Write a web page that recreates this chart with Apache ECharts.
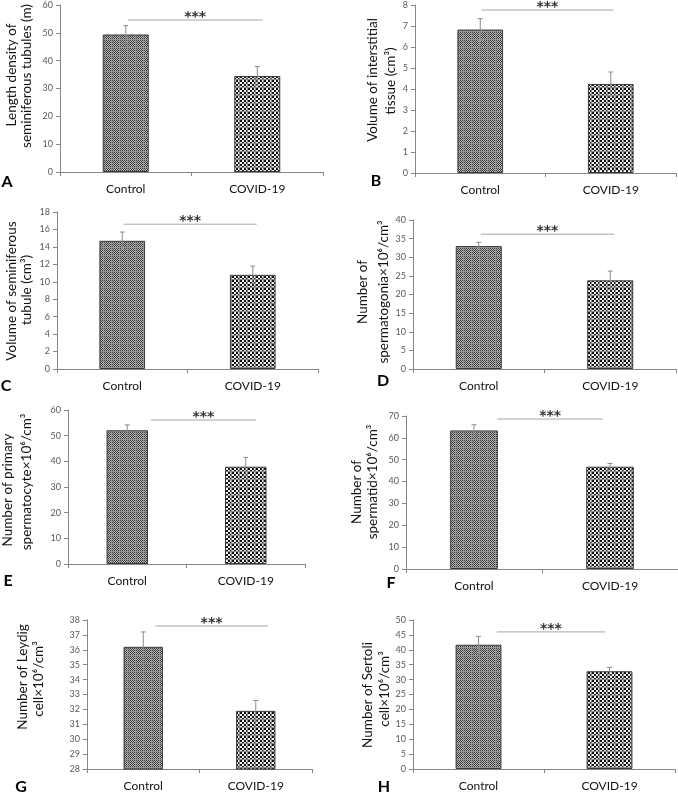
<!DOCTYPE html>
<html>
<head>
<meta charset="utf-8">
<script src="https://cdn.jsdelivr.net/npm/echarts@6/dist/echarts.min.js"></script>
<style>
html,body{margin:0;padding:0;background:#fff;}
#chart{width:678px;height:794px;}
</style>
</head>
<body>
<div id="chart"></div>
<script>
// ---------- data ----------
const categories = ['Control', 'COVID-19'];
const panelLetters = ['A', 'B', 'C', 'D', 'E', 'F', 'G', 'H'];
const controlMeans = [49.4, 6.83, 14.7, 33.0, 52.1, 63.4, 36.2, 41.7];
const covidMeans   = [34.5, 4.24, 10.8, 23.8, 37.9, 46.8, 31.9, 32.8];
const controlErr   = [3.2, 0.52, 1.0, 1.0, 2.1, 2.6, 1.0, 2.8];
const covidErr     = [3.4, 0.57, 1.0, 2.5, 3.6, 1.5, 0.7, 1.3];
const yMin  = [0, 0, 0, 0, 0, 0, 28, 0];
const yMax  = [60, 8, 18, 40, 60, 70, 38, 50];
const yStep = [10, 1, 2, 5, 10, 10, 1, 5];
const sigLevels = [54.6, 7.76, 16.6, 36.2, 56.1, 68.6, 37.6, 46.0];
const sigText = '***';
const yTitleLine1 = ['Length density of', 'Volume of interstitial', 'Volume of seminiferous', 'Number of',
                     'Number of primary', 'Number of', 'Number of Leydig', 'Number of Sertoli'];
const yTitleLine2 = ['seminiferous tubules (m)', 'tissue (cm\u00B3)', 'tubule (cm\u00B3)', 'spermatogonia\u00D710\u2076/cm\u00B3',
                     'spermatocyte\u00D710\u2076/cm\u00B3', 'spermatid\u00D710\u2076/cm\u00B3', 'cell\u00D710\u2076/cm\u00B3', 'cell\u00D710\u2076/cm\u00B3'];

// ---------- layout (pixels) ----------
const grids = [
  {left: 60,  top: 5,   width: 263, height: 167},
  {left: 415, top: 5,   width: 261, height: 168},
  {left: 57,  top: 212, width: 261, height: 157},
  {left: 413, top: 220, width: 263, height: 149},
  {left: 68,  top: 410, width: 237, height: 154},
  {left: 406, top: 416, width: 272, height: 153},
  {left: 87,  top: 620, width: 225, height: 149},
  {left: 413, top: 620, width: 262, height: 149}
];
const sigOffsets = [[0.015, 0.04], [0.01, 0.02], [0.01, 0.03], [0.015, 0.03],
                    [0.2, 0.085], [0.17, -0.05], [0.107, 0.107], [0.14, -0.035]];
const titlePos = [
  [[12, 75], [27, 76]], [[373, 80], [391, 81]],
  [[12, 291], [27, 290]], [[363, 292], [384, 292]],
  [[8, 490], [27, 482]], [[357, 492], [373, 482]],
  [[23, 677], [39, 679]], [[368, 695], [385, 689]]
];
const letterPos = [[7, 182], [376, 181], [6, 386], [383, 381], [8, 581], [391, 583], [21, 787], [384, 787]];

// ---------- patterns ----------
function makePattern(kind) {
  const c = document.createElement('canvas');
  c.width = 8; c.height = 8;
  const ctx = c.getContext('2d');
  for (let y = 0; y < 8; y++) {
    for (let x = 0; x < 8; x++) {
      let col;
      if (kind === 'fine') {
        col = ((x + y) % 2 === 0) ? '#353535' : '#bcbcbc';
        if (x === 7 || y === 7) col = '#959595';
      } else {
        col = ((Math.floor(x / 2) + Math.floor(y / 2)) % 2 === 0) ? '#111111' : '#f4f4f4';
        if (x === 7 || y === 7) col = '#8a8a8a';
      }
      ctx.fillStyle = col;
      ctx.fillRect(x, y, 1, 1);
    }
  }
  return {image: c, repeat: 'repeat'};
}
const patControl = makePattern('fine');
const patCovid = makePattern('coarse');

const FONT = 'Lato, "Open Sans", sans-serif';

const option = {
  animation: false,
  backgroundColor: '#fff',
  grid: [], xAxis: [], yAxis: [], series: [], graphic: []
};

for (let i = 0; i < 8; i++) {
  option.grid.push(Object.assign({containLabel: false}, grids[i]));
  option.xAxis.push({
    type: 'category', gridIndex: i, data: categories,
    axisLine: {lineStyle: {color: '#868686', width: 1}},
    axisTick: {show: true, length: 4, lineStyle: {color: '#868686'}},
    axisLabel: {color: '#111', fontSize: 12, fontFamily: FONT, margin: 11}
  });
  option.yAxis.push({
    type: 'value', gridIndex: i, min: yMin[i], max: yMax[i], interval: yStep[i],
    splitLine: {show: false},
    axisLine: {show: true, lineStyle: {color: '#868686', width: 1}},
    axisTick: {show: true, length: 4, lineStyle: {color: '#868686'}},
    axisLabel: {color: '#595959', fontSize: 9, fontFamily: FONT, margin: 7}
  });
  option.series.push({
    type: 'bar', xAxisIndex: i, yAxisIndex: i, barWidth: '35%',
    data: [
      {value: controlMeans[i], itemStyle: {color: patControl}},
      {value: covidMeans[i], itemStyle: {color: patCovid}}
    ],
    itemStyle: {borderColor: '#3a3a3a', borderWidth: 1},
    silent: true
  });
  option.series.push({
    type: 'custom', xAxisIndex: i, yAxisIndex: i, silent: true, z: 5,
    data: [[0, controlMeans[i], controlErr[i]], [1, covidMeans[i], covidErr[i]]],
    renderItem: function (params, api) {
      const x = api.value(0), m = api.value(1), e = api.value(2);
      const top = api.coord([x, m + e]);
      const bot = api.coord([x, m - e]);
      const hw = 2.5;
      const st = {stroke: '#8c8c8c', lineWidth: 1};
      return {type: 'group', children: [
        {type: 'line', shape: {x1: top[0], y1: top[1], x2: bot[0], y2: bot[1]}, style: st},
        {type: 'line', shape: {x1: top[0] - hw, y1: top[1], x2: top[0] + hw, y2: top[1]}, style: st},
        {type: 'line', shape: {x1: bot[0] - hw, y1: bot[1], x2: bot[0] + hw, y2: bot[1]}, style: st}
      ]};
    }
  });
  const off = sigOffsets[i];
  option.series.push({
    type: 'custom', xAxisIndex: i, yAxisIndex: i, silent: true, z: 6, clip: false,
    data: [[0, sigLevels[i]]],
    renderItem: function (params, api) {
      const lvl = api.value(1);
      const p0 = api.coord([0, lvl]);
      const p1 = api.coord([1, lvl]);
      const band = api.size([1, 0])[0];
      const x0 = p0[0] + off[0] * band, x1 = p1[0] + off[1] * band;
      return {type: 'group', children: [
        {type: 'line', shape: {x1: x0, y1: p0[1], x2: x1, y2: p0[1]}, style: {stroke: '#a6a6a6', lineWidth: 1}},
        {type: 'text', x: (x0 + x1) / 2, y: p0[1] - 3,
         style: {text: sigText, fill: '#333', font: 'bold 14px "DejaVu Sans", sans-serif', textAlign: 'center', textVerticalAlign: 'middle'}}
      ]};
    }
  });
  // y titles
  [yTitleLine1[i], yTitleLine2[i]].forEach(function (t, k) {
    option.graphic.push({
      type: 'text', x: titlePos[i][k][0], y: titlePos[i][k][1], rotation: Math.PI / 2,
      style: {text: t, fill: '#111', font: '13.5px ' + FONT, textAlign: 'center', textVerticalAlign: 'middle'}
    });
  });
  option.graphic.push({
    type: 'text', x: letterPos[i][0], y: letterPos[i][1],
    style: {text: panelLetters[i], fill: '#000', font: 'bold 16px ' + FONT, textAlign: 'center', textVerticalAlign: 'middle'}
  });
}

const chart = echarts.init(document.getElementById('chart'), null, {renderer: 'canvas'});
chart.setOption(option);
</script>
</body>
</html>
